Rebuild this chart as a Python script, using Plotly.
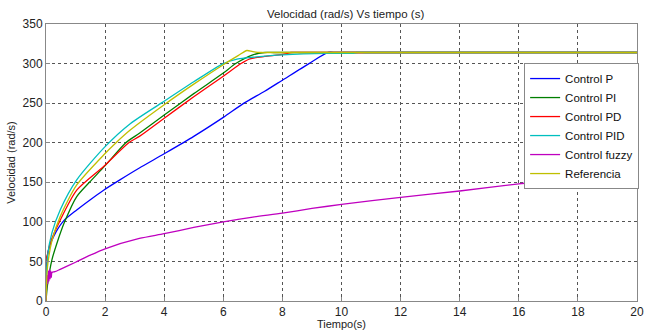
import plotly.graph_objects as go

# ---- data ----
t_p = [0, 0.02, 0.08, 0.25, 0.59, 1.04, 1.5, 1.95, 2.5, 3.16, 4.0, 5.0, 6.0, 6.7, 7.4, 8.0, 8.9, 9.55, 9.8, 11, 14, 17, 20]
v_p = [0, 45, 64, 81, 101, 115, 128, 140, 153, 168, 186, 208, 232, 250, 265, 279, 300, 314, 314, 314, 314, 314, 314]

t_pi = [0, 0.05, 0.2, 0.37, 0.63, 1.04, 1.47, 2.0, 2.7, 3.16, 4.0, 5.0, 6.0, 6.42, 7.0, 7.4, 7.7, 9, 12, 16, 20]
v_pi = [0, 20, 52, 73, 100, 132, 150, 171, 200, 212, 235, 262, 288, 300, 311, 314, 314, 314, 314, 314, 314]

t_pd = [0, 0.01, 0.06, 0.14, 0.48, 1.04, 1.95, 2.8, 3.16, 4.0, 5.0, 6.0, 6.6, 6.9, 7.4, 8.0, 8.3, 8.6, 10, 13, 16, 20]
v_pd = [0, 54, 60, 73, 102, 140, 170, 200, 208, 231, 258, 284, 300, 306, 309, 311.5, 314, 314, 314, 314, 314, 314]

t_pid = [0, 0.05, 0.2, 0.48, 1.04, 2.0, 2.85, 3.9, 5.0, 6.0, 6.5, 7.0, 8.0, 9.5, 10.4, 10.5, 10.8, 13, 16, 20]
v_pid = [0, 56, 86, 115, 153, 195, 224, 250, 277, 300, 306, 308, 311, 313, 313, 314, 314, 314, 314, 314]

t_fz = [0, 0.02, 0.04, 0.06, 0.08, 0.1, 0.12, 0.14, 0.16, 0.18, 0.2, 0.3, 0.48, 1.0, 1.5, 2.0, 3.16, 4.0, 5.0, 6.0, 7.0, 8.0, 9.0, 10.0, 12.0, 14.0, 16.0, 18.0, 20.0]
v_fz = [0, 18, 32, 22, 38, 25, 40, 28, 38, 30, 36, 37, 40, 49, 58, 66, 79, 85, 93, 100, 106, 111, 117, 122, 131, 139, 148, 155, 162]

t_ref = [0, 0.05, 0.2, 0.48, 1.04, 1.95, 2.37, 2.85, 4.0, 5.0, 6.0, 6.5, 6.8, 7.0, 7.3, 7.6, 9, 12, 16, 20]
v_ref = [0, 43, 76, 106.6, 146.6, 184.5, 200, 216, 248, 274, 298.6, 310, 316.5, 315, 314, 314, 314, 314, 314, 314]

names = ["Control P", "Control PI", "Control PD", "Control PID", "Control fuzzy", "Referencia"]
colors = ["#0000ff", "#007f00", "#ff0000", "#00bfbf", "#bf00bf", "#bfbf00"]
series = [(t_p, v_p), (t_pi, v_pi), (t_pd, v_pd), (t_pid, v_pid), (t_fz, v_fz), (t_ref, v_ref)]

x_ticks = list(range(0, 21, 2))
y_ticks = list(range(0, 351, 50))

fig = go.Figure()
for (t, v), n, c in zip(series, names, colors):
    fig.add_trace(go.Scatter(x=t, y=v, mode="lines", name=n,
                             line=dict(color=c, width=1.3, shape="spline", smoothing=0.7)))

font = "Arial, Liberation Sans, sans-serif"
fig.update_layout(
    width=646, height=330,
    margin=dict(l=46, r=7, t=24, b=29),
    paper_bgcolor="white", plot_bgcolor="white",
    title=dict(text="Velocidad (rad/s) Vs tiempo (s)", x=0.535, xanchor="center",
               y=0.97, yanchor="top", font=dict(family=font, size=11.5, color="#222")),
    font=dict(family=font, size=12, color="#222"),
    legend=dict(x=0.809, y=0.859, xanchor="left", yanchor="top",
                bgcolor="white", bordercolor="#888", borderwidth=1,
                font=dict(family=font, size=11.5, color="#111"),
                tracegroupgap=0, itemwidth=30),
    showlegend=True,
)
fig.update_xaxes(range=[0, 20], tickvals=x_ticks, ticktext=[str(v) for v in x_ticks],
                 showgrid=True, gridcolor="#555", griddash="dot", gridwidth=1,
                 showline=True, linecolor="#888", linewidth=1, mirror=True,
                 ticks="inside", ticklen=4, tickcolor="#888", zeroline=False,
                 automargin=False,
                 title=dict(text="Tiempo(s)", font=dict(size=11), standoff=2),
                 tickfont=dict(size=12))
fig.update_yaxes(range=[0, 350], tickvals=y_ticks, ticktext=[str(v) for v in y_ticks],
                 showgrid=True, gridcolor="#555", griddash="dot", gridwidth=1,
                 showline=True, linecolor="#888", linewidth=1, mirror=True,
                 ticks="inside", ticklen=4, tickcolor="#888", zeroline=False,
                 automargin=False,
                 title=dict(text="Velocidad (rad/s)", font=dict(size=11), standoff=4),
                 tickfont=dict(size=12))

fig.write_html("out.html")
